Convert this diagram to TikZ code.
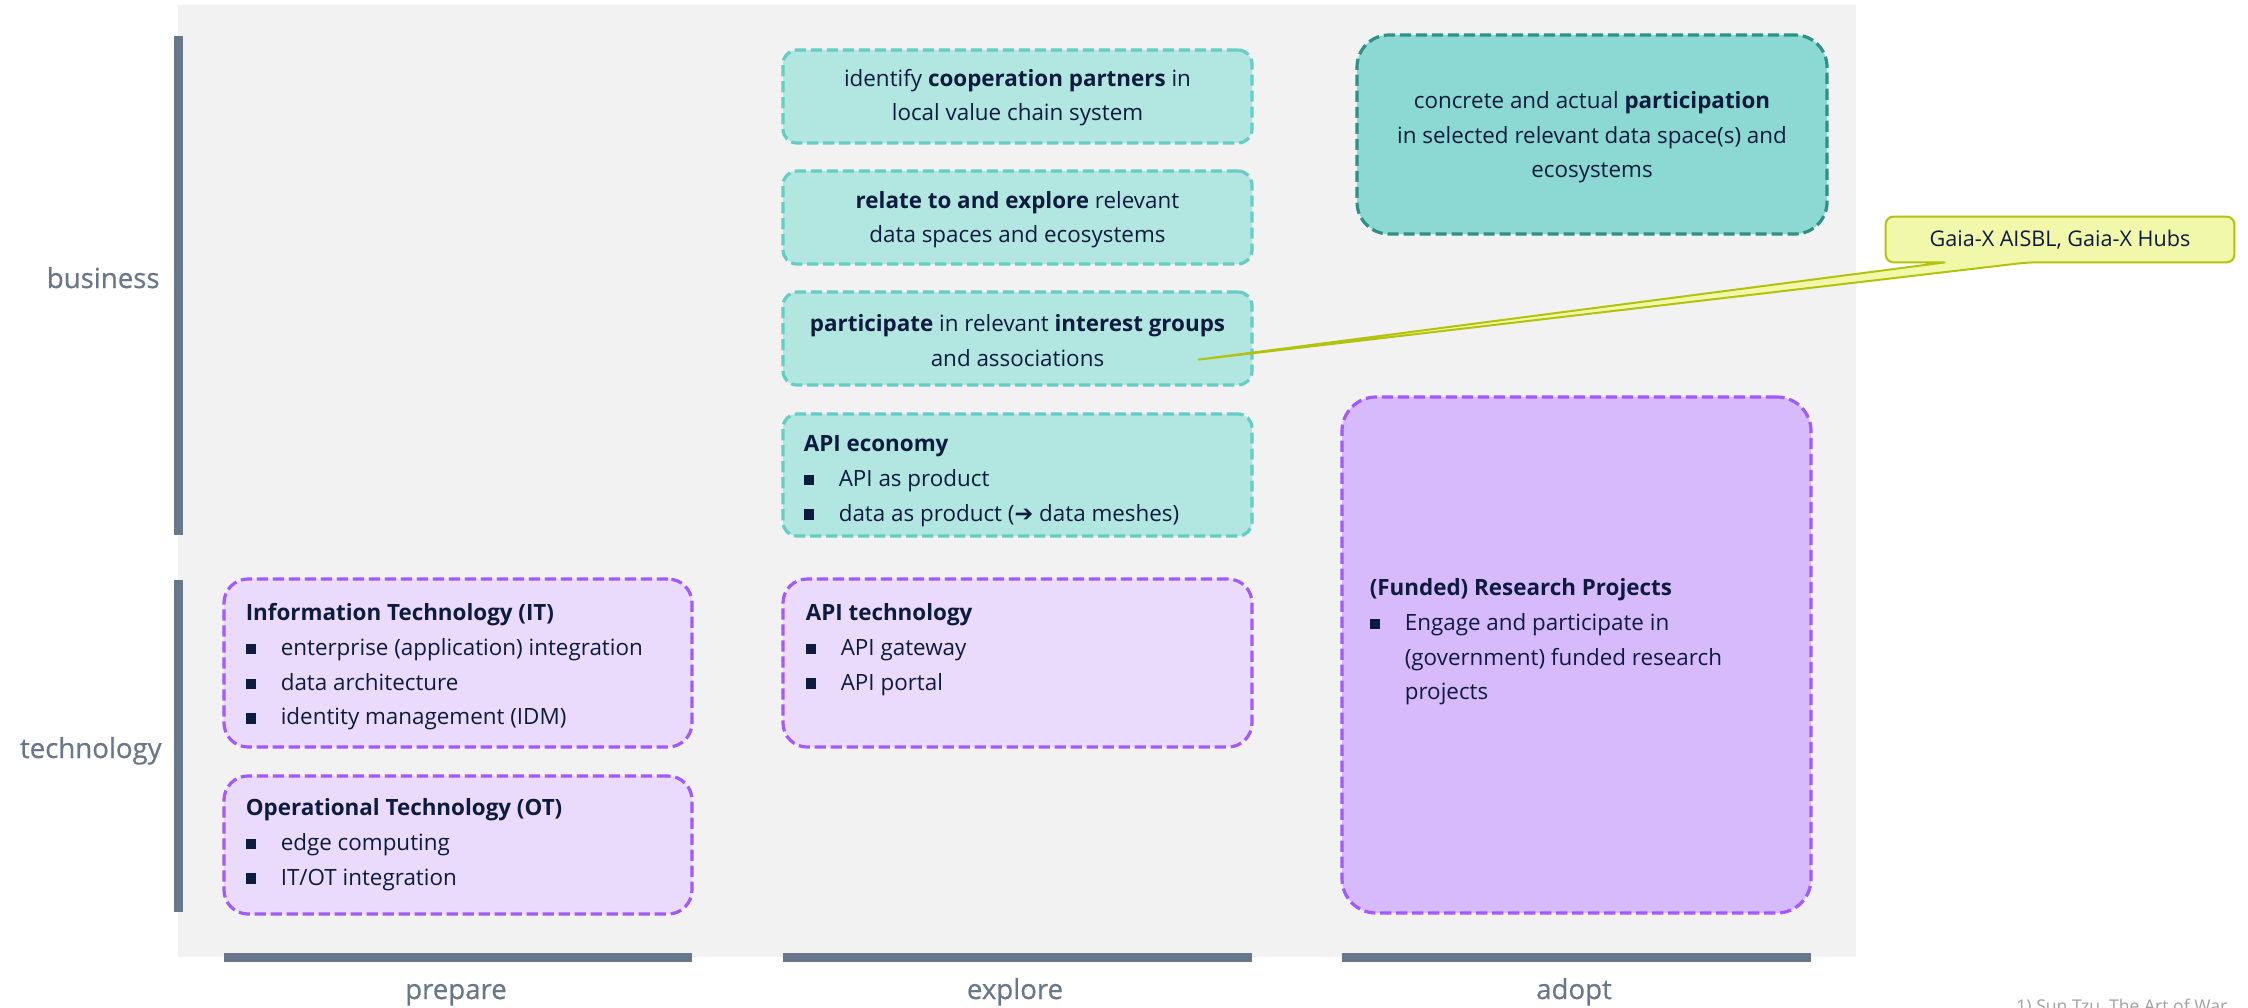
\documentclass[tikz,border=0pt]{standalone}
\usepackage{fontspec}
\setmainfont{Open Sans}
\newfontfamily\symfont{DejaVu Sans}
\newfontfamily\axisfont{Open Sans}[FakeBold=0.6]
\usetikzlibrary{calc,fit}

\definecolor{panel}{HTML}{F2F2F2}
\definecolor{axis}{HTML}{687789}
\definecolor{ink}{HTML}{0D1B3E}
\definecolor{tealfill}{HTML}{B2E6E1}
\definecolor{tealline}{HTML}{66CDC4}
\definecolor{deepfill}{HTML}{8BD9D2}
\definecolor{deepline}{HTML}{2E9087}
\definecolor{lilacfill}{HTML}{EADBFC}
\definecolor{violetfill}{HTML}{D7BAFB}
\definecolor{violetline}{HTML}{A259FF}
\definecolor{notefill}{HTML}{F1F8A9}
\definecolor{noteline}{HTML}{B3C20C}
\definecolor{footgray}{HTML}{A0A0A0}

\newcommand{\boxfont}{\fontsize{11.2}{17.3}\selectfont}
\newcommand{\sqbul}{\makebox[17.5pt][l]{\raisebox{0.6pt}{\rule{5.2pt}{5.2pt}}}}
\newcommand{\sqgap}{\makebox[17.5pt][l]{}}

\tikzset{
  card/.style={rounded corners=7pt, line width=1.6pt, dash pattern=on 5.6pt off 2.4pt,
    inner sep=0pt},
  tealcard/.style={card, fill=tealfill, draw=tealline},
  deepcard/.style={card, fill=deepfill, draw=deepline, rounded corners=16pt},
  lilaccard/.style={card, fill=lilacfill, draw=violetline, rounded corners=12pt},
  violetcard/.style={card, fill=violetfill, draw=violetline, rounded corners=17pt},
  cardtext/.style={inner sep=0pt, text=ink, font=\boxfont, align=center},
  listtext/.style={anchor=north west, inner sep=0pt, text=ink, font=\boxfont, align=left},
  axislabel/.style={text=axis, font=\axisfont\fontsize{13.8}{17}\selectfont, inner sep=0pt},
  bar/.style={fill=axis},
  callout/.style={fill=notefill, draw=noteline, line width=1pt, line join=round},
}

\begin{document}
\begin{tikzpicture}[x=0.5pt, y=-0.5pt]
\useasboundingbox (0,0) rectangle (2248,1007);

% panel and axes
\fill[panel] (178,5) rectangle (1856,957);
\fill[bar] (174,36) rectangle (183,535);
\fill[bar] (174,580) rectangle (183,912);
\fill[bar] (224,953) rectangle (692,962);
\fill[bar] (783,953) rectangle (1252,962);
\fill[bar] (1342,953) rectangle (1811,962);

\node[axislabel, anchor=base east] (business) at (160,288) {business};
\node[axislabel, anchor=base east] (technology) at (162,758) {technology};
\node[axislabel, anchor=base] (prepare) at (456,999) {prepare};
\node[axislabel, anchor=base] (explore) at (1015,999) {explore};
\node[axislabel, anchor=base] (adopt) at (1574,999) {adopt};

% explore column, business
\node[tealcard, fit={(783,50) (1252,143)}] (coop) {};
\node[cardtext] (cooptext) at ($(coop.center)+(0,1)$)
  {identify \textbf{cooperation partners} in\\local value chain system};
\node[tealcard, fit={(783,171) (1252,264)}] (relate) {};
\node[cardtext] (relatetext) at ($(relate.center)+(0,2)$)
  {\textbf{relate to and explore} relevant\\data spaces and ecosystems};
\node[tealcard, fit={(783,292) (1252,385)}] (part) {};
\node[cardtext] (parttext) at ($(part.center)+(0,2)$)
  {\textbf{participate} in relevant \textbf{interest groups}\\and associations};
\node[tealcard, fit={(783,414) (1252,536)}] (econ) {};
\node[listtext] (econtext) at ($(econ.north west)+(22,23)$)
  {\textbf{API economy}\\\sqbul API as product\\\sqbul data as product ({\symfont\bfseries ➔} data meshes)};

% adopt column, business
\node[deepcard, fit={(1357,35) (1827,234)}] (active) {};
\node[cardtext] (activetext) at ($(active.center)+(0,3)$)
  {concrete and actual \textbf{participation}\\in selected relevant data space(s) and\\ecosystems};

% prepare column, technology
\node[lilaccard, fit={(224,579) (692,747)}] (itbox) {};
\node[listtext] (ittext) at ($(itbox.north west)+(23,26)$)
  {\textbf{Information Technology (IT)}\\\sqbul enterprise (application) integration\\\sqbul data architecture\\\sqbul identity management (IDM)};
\node[lilaccard, fit={(224,776) (692,914)}] (otbox) {};
\node[listtext] (ottext) at ($(otbox.north west)+(23,24)$)
  {\textbf{Operational Technology (OT)}\\\sqbul edge computing\\\sqbul IT/OT integration};

% explore column, technology
\node[lilaccard, fit={(783,579) (1252,747)}] (apitech) {};
\node[listtext] (apitechtext) at ($(apitech.north west)+(24,26)$)
  {\textbf{API technology}\\\sqbul API gateway\\\sqbul API portal};

% adopt column, technology
\node[violetcard, fit={(1342,397) (1811,913)}] (research) {};
\node[listtext] (researchtext) at ($(research.north west)+(29,183)$)
  {\textbf{(Funded) Research Projects}\\\sqbul Engage and participate in\\\sqgap(government) funded research\\\sqgap projects};

% callout
\node[inner sep=0pt, fit={(1886,217) (2234,262)}] (gaia) {};
\coordinate (tip) at ($(part.south east)+(-55,-27)$);
\coordinate (baseA) at ($(gaia.south west)+(59,0)$);
\coordinate (baseB) at ($(gaia.south west)+(142,0)$);
\draw[callout] (gaia.west) [rounded corners=4pt] -- (gaia.north west) -- (gaia.north east)
  -- (gaia.south east) -- (baseB) [sharp corners] -- (tip) -- (baseA)
  [rounded corners=4pt] -- (gaia.south west) -- cycle;
\node[inner sep=0pt, text=ink, font=\fontsize{10.8}{13}\selectfont] (gaiatext) at (gaia.center) {Gaia-X AISBL, Gaia-X Hubs};

% footnote
\node[anchor=base west, inner sep=0pt, text=footgray, font=\fontsize{8.8}{10}\selectfont] (source)
  at (2016,1012) {1) Sun Tzu, The Art of War};
\end{tikzpicture}
\end{document}
